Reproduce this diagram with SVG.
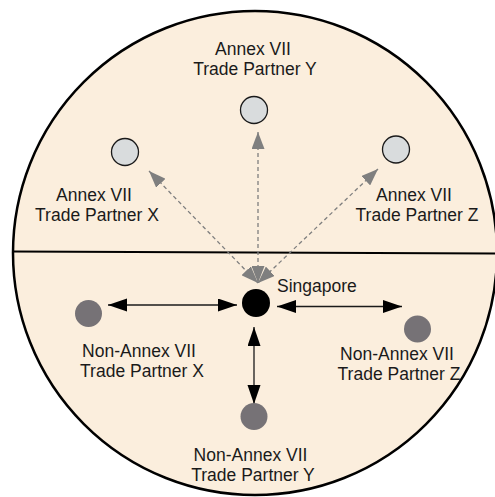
<svg xmlns="http://www.w3.org/2000/svg" width="495" height="497" viewBox="0 0 495 497">
<defs>
<style>
.lbl{font-family:"Liberation Sans",Arial,sans-serif;font-size:17.5px;fill:#1a1a1a;text-anchor:middle}
.ann{fill:#d9dcdd;stroke:#1a1a1a;stroke-width:1.3}
.non{fill:#767276}
.dash{stroke:#7f7f7f;stroke-width:1.3;stroke-dasharray:4,3;fill:none}
.solid{stroke:#1a1a1a;stroke-width:1.3;fill:none}
</style>
<marker id="ga" markerUnits="userSpaceOnUse" markerWidth="18" markerHeight="13" refX="17" refY="6.5" orient="auto-start-reverse" viewBox="0 0 18 13">
<path d="M0,0 L17,6.5 L0,13 z" fill="#7f7f7f"/>
</marker>
<marker id="ba" markerUnits="userSpaceOnUse" markerWidth="20" markerHeight="14" refX="19" refY="6.5" orient="auto-start-reverse" viewBox="0 0 20 14">
<path d="M0,0 L19,6.5 L0,13 z" fill="#000"/>
</marker>
</defs>
<g id="background">
<circle cx="255" cy="253" r="242" fill="#fbeedd" stroke="#000" stroke-width="2.5"/>
<line x1="12" y1="251.5" x2="495" y2="253.5" stroke="#000" stroke-width="1.8"/>
</g>
<g id="connectors">
<line class="dash" x1="149" y1="171" x2="258" y2="283" marker-start="url(#ga)" marker-end="url(#ga)"/>
<line class="dash" x1="258" y1="132" x2="258" y2="283" marker-start="url(#ga)" marker-end="url(#ga)"/>
<line class="dash" x1="378" y1="169" x2="258" y2="283" marker-start="url(#ga)" marker-end="url(#ga)"/>
<line class="solid" x1="108" y1="305" x2="237" y2="305" marker-start="url(#ba)" marker-end="url(#ba)"/>
<line class="solid" x1="277" y1="306.5" x2="402" y2="306.5" marker-start="url(#ba)" marker-end="url(#ba)"/>
<line class="solid" x1="254" y1="327" x2="254" y2="404" marker-start="url(#ba)" marker-end="url(#ba)"/>
</g>
<g id="annex-y">
<circle class="ann" cx="254" cy="110" r="13.5"/>
<text class="lbl" x="253" y="55">Annex VII</text>
<text class="lbl" x="255" y="75">Trade Partner Y</text>
</g>
<g id="annex-x">
<circle class="ann" cx="125" cy="152" r="13.5"/>
<text class="lbl" x="94" y="201">Annex VII</text>
<text class="lbl" x="97" y="221">Trade Partner X</text>
</g>
<g id="annex-z">
<circle class="ann" cx="396" cy="149.5" r="13.5"/>
<text class="lbl" x="414" y="201">Annex VII</text>
<text class="lbl" x="417" y="221">Trade Partner Z</text>
</g>
<g id="singapore">
<circle cx="256" cy="303" r="14" fill="#000"/>
<text class="lbl" x="277" y="292" style="text-anchor:start">Singapore</text>
</g>
<g id="non-annex-x">
<circle class="non" cx="88.5" cy="313.5" r="13.5"/>
<text class="lbl" x="139" y="357">Non-Annex VII</text>
<text class="lbl" x="142" y="377">Trade Partner X</text>
</g>
<g id="non-annex-z">
<circle class="non" cx="417.5" cy="329" r="13.5"/>
<text class="lbl" x="397" y="360">Non-Annex VII</text>
<text class="lbl" x="399" y="380">Trade Partner Z</text>
</g>
<g id="non-annex-y">
<circle class="non" cx="254" cy="416.5" r="13.5"/>
<text class="lbl" x="250.5" y="460.5">Non-Annex VII</text>
<text class="lbl" x="253" y="480.5">Trade Partner Y</text>
</g>
</svg>
